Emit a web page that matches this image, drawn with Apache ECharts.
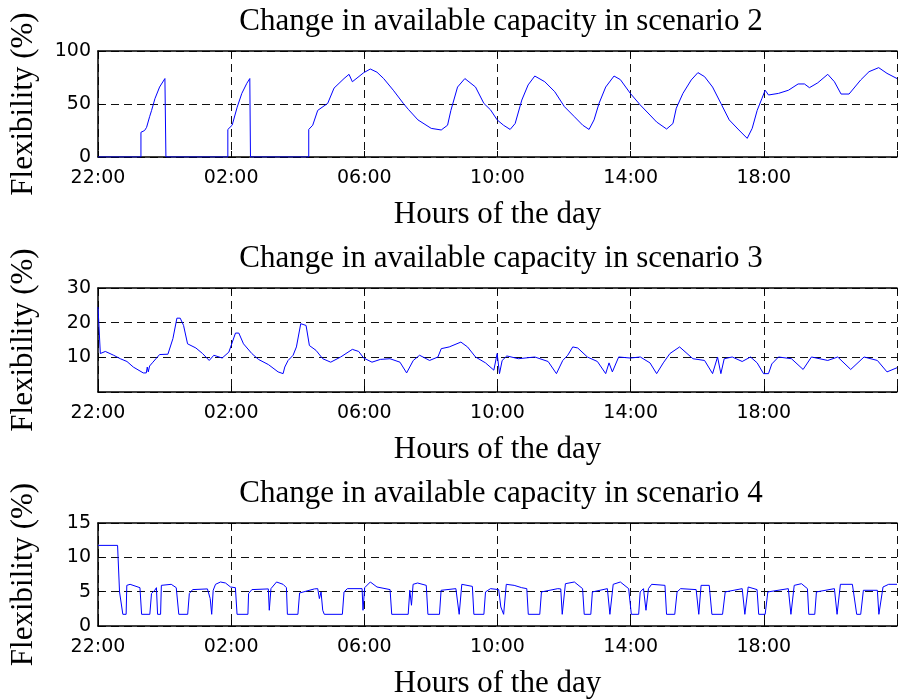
<!DOCTYPE html>
<html>
<head>
<meta charset="utf-8">
<style>html,body{margin:0;padding:0;background:#fff;}#c{width:900px;height:700px;}</style>
<script src="https://cdn.jsdelivr.net/npm/echarts@6/dist/echarts.min.js"></script>
</head>
<body>
<div id="c"></div>
<script>
// x values are hours elapsed since 22:00
var xTickLabels = ['22:00', '02:00', '06:00', '10:00', '14:00', '18:00', ''];
var titles = ['Change in available capacity in scenario 2', 'Change in available capacity in scenario 3', 'Change in available capacity in scenario 4'];
var xName = 'Hours of the day';
var yName = 'Flexibility (%)';

var s2Hours = [0, 1.29, 1.29, 1.40, 1.46, 1.55, 1.61, 1.71, 1.85, 2.01, 2.04, 2.04, 3.90, 3.90, 4.03, 4.18, 4.32, 4.47, 4.56, 4.58, 4.58, 6.33, 6.33, 6.45, 6.60, 6.90, 7.09, 7.39, 7.54, 7.64, 7.98, 8.18, 8.38, 8.58, 8.87, 9.17, 9.32, 9.61, 10.01, 10.31, 10.50, 10.60, 10.80, 11.02, 11.34, 11.59, 11.79, 11.99, 12.18, 12.38, 12.53, 12.73, 12.92, 13.12, 13.42, 13.72, 14.01, 14.31, 14.56, 14.75, 14.90, 15.05, 15.25, 15.50, 15.69, 15.99, 16.29, 16.58, 16.78, 17.08, 17.27, 17.37, 17.57, 17.82, 18.02, 18.22, 18.46, 18.71, 18.96, 19.25, 19.50, 19.65, 19.80, 19.94, 20.04, 20.14, 20.44, 20.74, 21.03, 21.22, 21.37, 21.62, 21.92, 22.12, 22.32, 22.56, 22.91, 23.16, 23.45, 23.70, 24];
var s2Values = [0, 0, 23.3, 25, 28, 38, 44, 55, 66, 74, 74, 0, 0, 26, 30, 47, 60, 69.5, 74, 74, 0, 0, 26, 30, 44, 50.6, 65, 74, 78, 71, 79.5, 83, 80, 74, 63, 50.6, 45, 35, 27, 25.5, 30, 44, 66, 74, 66, 50.6, 44.5, 35, 30, 26, 31.6, 53.7, 68, 76.4, 71, 61.6, 47.5, 38, 30, 26, 35, 50.6, 66, 76.4, 73, 60, 49, 39.6, 33, 26.4, 31.6, 46, 60, 72.7, 79.6, 75.8, 66, 50.6, 35, 25.5, 17.6, 27, 44, 55, 63, 58.5, 60, 63, 68.9, 68.9, 65.4, 70, 78, 71, 59.4, 59.4, 72.7, 80.5, 84.3, 78.9, 74];

var s3Hours = [0, 0.07, 0.22, 0.47, 0.67, 0.87, 1.06, 1.36, 1.45, 1.48, 1.51, 1.55, 1.65, 1.85, 2.10, 2.25, 2.37, 2.47, 2.57, 2.69, 2.94, 3.14, 3.34, 3.48, 3.73, 3.93, 4.13, 4.23, 4.37, 4.62, 4.82, 5.12, 5.41, 5.56, 5.61, 5.71, 5.86, 5.96, 6.09, 6.25, 6.35, 6.55, 6.75, 6.99, 7.29, 7.64, 7.83, 7.98, 8.23, 8.48, 8.77, 9.07, 9.27, 9.47, 9.66, 9.96, 10.21, 10.31, 10.55, 10.90, 11.10, 11.34, 11.64, 11.89, 11.99, 12.06, 12.14, 12.28, 12.63, 13.12, 13.52, 13.77, 13.96, 14.11, 14.26, 14.41, 14.70, 15.00, 15.25, 15.35, 15.45, 15.64, 15.99, 16.29, 16.58, 16.78, 16.98, 17.18, 17.47, 17.87, 18.22, 18.46, 18.61, 18.71, 18.81, 19.05, 19.35, 19.60, 19.80, 19.99, 20.14, 20.24, 20.44, 20.83, 21.18, 21.43, 21.92, 22.22, 22.61, 23.01, 23.41, 23.70, 24];
var s3Values = [24.5, 11.1, 11.7, 10.6, 9.6, 8.8, 7.2, 5.5, 5.5, 7.2, 5.8, 7.5, 8.6, 10.8, 10.9, 15.4, 21.3, 21.3, 19.2, 13.9, 12.7, 11.1, 9.1, 10.6, 9.8, 11.5, 17.0, 17.0, 13.9, 11.1, 9.4, 7.9, 5.8, 5.3, 7.2, 9.1, 10.6, 13.0, 19.7, 19.2, 13.4, 12.0, 9.6, 8.6, 10.1, 12.3, 11.7, 9.8, 8.6, 9.4, 9.6, 8.6, 5.5, 9.1, 10.6, 9.1, 10.1, 12.5, 13.0, 14.4, 13.0, 10.1, 8.4, 6.3, 11.1, 5.3, 9.1, 10.4, 9.6, 10.1, 8.8, 5.3, 9.1, 10.6, 13.0, 12.7, 10.1, 8.8, 5.3, 8.4, 5.8, 10.1, 9.8, 10.1, 8.4, 5.3, 8.4, 11.1, 13.0, 9.6, 9.1, 5.3, 10.1, 5.3, 9.6, 10.1, 8.8, 10.1, 8.4, 5.3, 5.3, 8.1, 10.1, 9.6, 6.5, 10.1, 9.1, 10.1, 6.5, 10.1, 9.1, 5.8, 7.0];

var s4Hours = [0, 0.588, 0.647, 0.70, 0.746, 0.845, 0.865, 0.964, 1.26, 1.31, 1.557, 1.607, 1.705, 1.755, 1.79, 1.88, 1.903, 2.20, 2.35, 2.398, 2.427, 2.694, 2.743, 2.842, 3.287, 3.37, 3.415, 3.46, 3.53, 3.68, 3.83, 3.98, 4.127, 4.177, 4.503, 4.523, 4.622, 5.116, 5.145, 5.195, 5.363, 5.56, 5.66, 5.689, 6.005, 6.055, 6.50, 6.60, 6.65, 6.70, 6.75, 6.797, 7.34, 7.39, 7.49, 7.933, 7.96, 8.01, 8.18, 8.38, 8.773, 8.823, 9.317, 9.366, 9.416, 9.465, 9.60, 9.86, 9.91, 10.257, 10.306, 10.75, 10.849, 10.928, 11.245, 11.29, 11.591, 11.64, 11.79, 12.036, 12.10, 12.184, 12.264, 12.50, 12.727, 12.88, 12.925, 13.27, 13.32, 13.81, 13.90, 13.944, 14.04, 14.309, 14.556, 14.605, 14.803, 14.85, 15.30, 15.376, 15.475, 15.69, 15.94, 16.02, 16.24, 16.286, 16.385, 16.46, 16.534, 16.63, 17.03, 17.078, 17.325, 17.394, 17.50, 17.967, 18.046, 18.115, 18.36, 18.44, 18.76, 18.84, 19.35, 19.43, 19.53, 19.796, 19.846, 20.04, 20.12, 20.735, 20.814, 20.913, 21.13, 21.31, 21.35, 21.53, 21.58, 22.12, 22.20, 22.30, 22.66, 22.79, 22.91, 22.99, 23.41, 23.456, 23.58, 23.75, 24];
var s4Values = [11.74, 11.74, 4.96, 4.72, 1.70, 1.70, 5.92, 6.07, 5.58, 1.70, 1.70, 4.72, 5.20, 5.58, 1.70, 1.70, 5.92, 6.07, 5.58, 5.30, 1.70, 1.70, 4.72, 5.30, 5.40, 3.99, 1.70, 5.20, 6.07, 6.41, 6.26, 5.68, 5.58, 1.70, 1.70, 4.72, 5.30, 5.40, 2.29, 5.44, 6.41, 6.07, 5.58, 1.70, 1.70, 4.81, 5.40, 5.44, 3.99, 4.96, 2.29, 1.70, 1.70, 4.96, 5.44, 5.44, 2.29, 5.58, 6.41, 5.68, 5.30, 1.70, 1.70, 5.20, 3.02, 6.07, 6.26, 5.92, 1.70, 1.70, 5.20, 5.44, 1.70, 6.07, 5.77, 1.70, 1.70, 4.96, 5.44, 5.30, 2.77, 1.70, 6.07, 5.92, 5.58, 5.44, 1.70, 1.70, 4.96, 5.44, 5.40, 1.70, 6.16, 6.41, 5.44, 1.70, 1.70, 4.96, 5.44, 1.70, 6.07, 6.41, 5.44, 1.70, 1.70, 4.96, 5.44, 2.29, 5.44, 6.07, 5.92, 1.70, 1.70, 4.96, 5.44, 5.30, 1.70, 5.92, 5.92, 1.70, 1.70, 4.96, 5.44, 1.70, 5.68, 5.30, 1.70, 1.70, 4.96, 5.44, 1.70, 5.92, 6.16, 5.44, 1.70, 1.70, 4.96, 5.44, 1.70, 6.07, 6.07, 1.70, 1.70, 5.20, 5.20, 1.70, 5.68, 6.07, 6.07];

var yRanges = [[0, 100, 50], [0, 30, 10], [0, 15, 5]];
var hiddenYLabels = [[], [0], []];

function zip(a, b) { var r = []; for (var i = 0; i < a.length; i++) r.push([a[i], b[i]]); return r; }
var seriesData = [zip(s2Hours, s2Values), zip(s3Hours, s3Values), zip(s4Hours, s4Values)];

var gridLayout = [
  {left: 97, top: 51, width: 810, height: 106},
  {left: 97, top: 288, width: 810, height: 104},
  {left: 97, top: 523, width: 810, height: 103}
];
var titleTops = [6, 243, 478];

var serif = 'Liberation Serif';
var sans = 'DejaVu Sans';
var dash = [8, 5];

var option = {
  animation: false,
  backgroundColor: '#fff',
  title: [], grid: [], xAxis: [], yAxis: [], series: []
};

for (var i = 0; i < 3; i++) {
  option.title.push({
    text: titles[i], left: 501, top: titleTops[i], textAlign: 'center', padding: 0,
    textStyle: {fontFamily: serif, fontSize: 31, fontWeight: 'normal', color: '#000', lineHeight: 31}
  });
  option.grid.push(gridLayout[i]);
  option.xAxis.push({
    type: 'value', gridIndex: i, min: 0, max: 24, interval: 4, position: 'bottom',
    name: xName, nameLocation: 'middle', nameGap: 42,
    nameTextStyle: {fontFamily: serif, fontSize: 31, color: '#000', lineHeight: 31},
    axisLine: {show: true, onZero: false, lineStyle: {color: '#000', width: 1.5}},
    axisTick: {show: true, inside: true, length: 6, lineStyle: {color: '#000'}},
    axisLabel: {margin: 12, fontFamily: sans, fontSize: 19, color: '#000',
      formatter: function (v) { return xTickLabels[Math.round(v / 4)]; }},
    splitLine: {show: true, lineStyle: {color: '#111', type: dash, width: 1}}
  });
  option.xAxis.push({
    type: 'value', gridIndex: i, min: 0, max: 24, interval: 4, position: 'top',
    axisLine: {show: true, onZero: false, lineStyle: {color: '#000', width: 1.5}},
    axisTick: {show: true, inside: true, length: 6, lineStyle: {color: '#000'}},
    axisLabel: {show: false}, splitLine: {show: false}
  });
  (function (idx) {
    option.yAxis.push({
      type: 'value', gridIndex: idx, min: yRanges[idx][0], max: yRanges[idx][1], interval: yRanges[idx][2],
      name: yName, nameLocation: 'middle', nameGap: 59,
      nameTextStyle: {fontFamily: serif, fontSize: 31, color: '#000', lineHeight: 31},
      axisLine: {show: true, onZero: false, lineStyle: {color: '#000', width: 1.5}},
      axisTick: {show: true, inside: true, length: 6, lineStyle: {color: '#000'}},
      axisLabel: {margin: 7, fontFamily: sans, fontSize: 19, color: '#000',
        formatter: function (v) { return hiddenYLabels[idx].indexOf(v) >= 0 ? '' : String(v); }},
      splitLine: {show: true, lineStyle: {color: '#111', type: dash, width: 1}}
    });
  })(i);
  option.series.push({
    type: 'line', xAxisIndex: i * 2, yAxisIndex: i, data: seriesData[i],
    showSymbol: false, symbol: 'none', clip: true,
    lineStyle: {color: '#0000ff', width: 1}
  });
}

var chart = echarts.init(document.getElementById('c'), null, {renderer: 'canvas'});
chart.setOption(option);
</script>
</body>
</html>
